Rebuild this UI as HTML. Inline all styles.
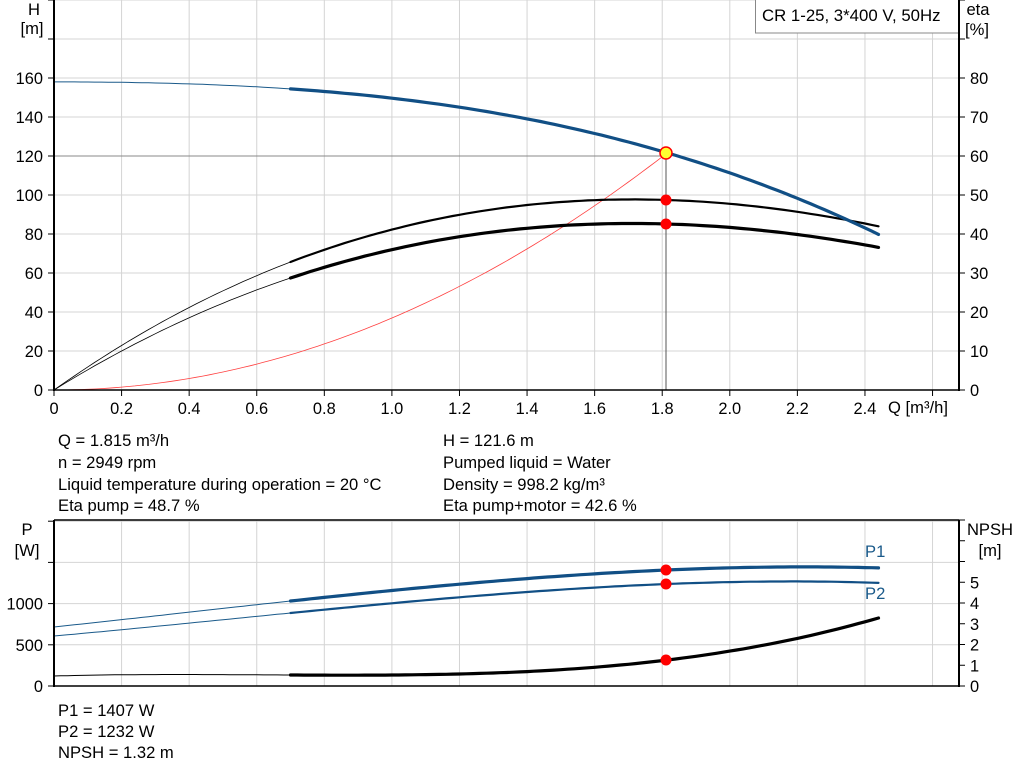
<!DOCTYPE html>
<html><head><meta charset="utf-8"><style>
body{margin:0;background:#fff;}
svg{display:block;font-family:"Liberation Sans",Arial,sans-serif;}
</style></head><body>
<svg id="s" width="1024" height="781" viewBox="0 0 1024 781" xmlns="http://www.w3.org/2000/svg">
<g id="grid" stroke="#d4d4d4" stroke-width="1"></g>
<g id="curves"></g>
<rect x="755.5" y="-1" width="203" height="34" fill="#fff" stroke="#888"/>
<text x="762" y="21" font-size="16.8">CR 1-25, 3*400 V, 50Hz</text>
<g font-size="16.6" fill="#000">
<text x="34" y="15" text-anchor="middle">H</text>
<text x="32" y="34" text-anchor="middle">[m]</text>
<text x="978" y="15" text-anchor="middle">eta</text>
<text x="977" y="35" text-anchor="middle">[%]</text>
<text x="888" y="413">Q [m³/h]</text>
<text x="58" y="446">Q = 1.815 m³/h</text>
<text x="58" y="468">n = 2949 rpm</text>
<text x="58" y="490">Liquid temperature during operation = 20 °C</text>
<text x="58" y="511">Eta pump = 48.7 %</text>
<text x="443" y="446">H = 121.6 m</text>
<text x="443" y="468">Pumped liquid = Water</text>
<text x="443" y="490">Density = 998.2 kg/m³</text>
<text x="443" y="511">Eta pump+motor = 42.6 %</text>
<text x="27" y="535" text-anchor="middle">P</text>
<text x="27" y="556" text-anchor="middle">[W]</text>
<text x="990" y="535" text-anchor="middle">NPSH</text>
<text x="990" y="556" text-anchor="middle">[m]</text>
<text x="865" y="557" fill="#1a5a8a">P1</text>
<text x="865" y="599" fill="#1a5a8a">P2</text>
<text x="58" y="716">P1 = 1407 W</text>
<text x="58" y="737">P2 = 1232 W</text>
<text x="58" y="758">NPSH = 1.32 m</text>
</g>
<g id="axes" font-size="16.4"></g>
</svg>
<script>
const NS="http://www.w3.org/2000/svg";
function el(p,t,a,txt){const e=document.createElementNS(NS,t);for(const k in a)e.setAttribute(k,a[k]);if(txt!==undefined)e.textContent=txt;document.getElementById(p).appendChild(e);return e;}
const X=q=>54+q*337.9;
for(let i=1;i<=13;i++){const x=X(i*0.2);el("grid","line",{x1:x,y1:0,x2:x,y2:390});el("grid","line",{x1:x,y1:520,x2:x,y2:686});}
for(let v=20;v<=200;v+=20){const y=390-v*1.95;el("grid","line",{x1:54,y1:y,x2:959,y2:y});}
for(let k=1;k<=4;k++){const y=686-k*41.2;el("grid","line",{x1:54,y1:y,x2:959,y2:y});}
const A="axes";
el(A,"line",{x1:54,y1:0,x2:54,y2:391,stroke:"#000","stroke-width":2});
el(A,"line",{x1:53,y1:390,x2:959,y2:390,stroke:"#000","stroke-width":1.5});
el(A,"line",{x1:959,y1:0,x2:959,y2:391,stroke:"#000","stroke-width":2});
for(let v=0;v<=200;v+=20){const y=390-v*1.95;el(A,"line",{x1:48,y1:y,x2:54,y2:y,stroke:"#000"});if(v<=160)el(A,"text",{x:43,y:y+6,"text-anchor":"end"},v);}
for(let v=0;v<=100;v+=10){const y=390-v*3.9;el(A,"line",{x1:959,y1:y,x2:965,y2:y,stroke:"#000"});if(v<=80)el(A,"text",{x:970,y:y+6},v);}
for(let i=0;i<=13;i++){const x=X(i*0.2);el(A,"line",{x1:x,y1:390,x2:x,y2:396,stroke:"#000"});if(i<=12)el(A,"text",{x:x,y:414,"text-anchor":"middle"},(i*0.2).toFixed(i==0?0:1));}
el(A,"line",{x1:54,y1:520,x2:959,y2:520,stroke:"#000","stroke-width":1.5});
el(A,"line",{x1:54,y1:520,x2:54,y2:687,stroke:"#000","stroke-width":2});
el(A,"line",{x1:53,y1:686,x2:959,y2:686,stroke:"#000","stroke-width":1.5});
el(A,"line",{x1:959,y1:520,x2:959,y2:687,stroke:"#000","stroke-width":2});
for(let k=0;k<=4;k++){const y=686-k*41.2;el(A,"line",{x1:48,y1:y,x2:54,y2:y,stroke:"#000"});if(k<=2)el(A,"text",{x:43,y:y+6,"text-anchor":"end"},k*500);}
for(let k=0;k<=8;k++){const y=686-k*20.75;el(A,"line",{x1:959,y1:y,x2:965,y2:y,stroke:"#000"});if(k<=5)el(A,"text",{x:970,y:y+6},k);}
function lag(pts){return x=>{let s=0;for(let i=0;i<pts.length;i++){let t=pts[i][1];for(let j=0;j<pts.length;j++)if(j!=i)t*=(x-pts[j][0])/(pts[i][0]-pts[j][0]);s+=t;}return s;};}
function path(f,a,b,col,w){let d="";for(let q=a;q<=b+1e-9;q+=0.02){d+=(d?"L":"M")+X(q).toFixed(1)+","+f(q).toFixed(1);}el("curves","path",{d:d,fill:"none",stroke:col,"stroke-width":w,"stroke-linecap":"round"});}
const C="curves";
const H=q=>390-1.95*(158-5.01*q*q-3.33*q*q*q);
const e1=lag([[0,390],[0.7,262],[1.815,200],[2.45,227]]);
const e2=lag([[0,390],[0.7,278],[1.815,224],[2.45,248]]);
const sys=q=>390-1.95*121.6*(q/1.815)**2;
const p1=lag([[0,627],[0.7,601],[1.815,570],[2.45,568]]);
const p2=lag([[0,636],[0.7,613],[1.815,584],[2.45,583]]);
const np=lag([[0,676],[0.7,675],[1.815,660],[2.45,617]]);
el(C,"line",{x1:54,y1:156,x2:666,y2:156,stroke:"#888","stroke-width":1});
el(C,"line",{x1:666,y1:156,x2:666,y2:390,stroke:"#555","stroke-width":1});
path(sys,0,1.815,"#ff4040",0.8);
path(e1,0,0.7,"#000",0.8);path(e1,0.7,2.44,"#000",2.2);
path(e2,0,0.7,"#000",0.8);path(e2,0.7,2.44,"#000",3.2);
path(H,0,0.7,"#1a5a8a",1);path(H,0.7,2.44,"#114f85",3.2);
path(p1,0,0.7,"#1a5a8a",1);path(p1,0.7,2.44,"#114f85",3.2);
path(p2,0,0.7,"#1a5a8a",1);path(p2,0.7,2.44,"#114f85",2.2);
path(np,0,0.7,"#000",1);path(np,0.7,2.44,"#000",3.2);
el(C,"circle",{cx:666,cy:153,r:6,fill:"#ffff30",stroke:"#f00","stroke-width":1.5});
[[666,200],[666,224],[666,570],[666,584],[666,660]].forEach(p=>el(C,"circle",{cx:p[0],cy:p[1],r:5.5,fill:"#f00"}));
</script>
</body></html>
